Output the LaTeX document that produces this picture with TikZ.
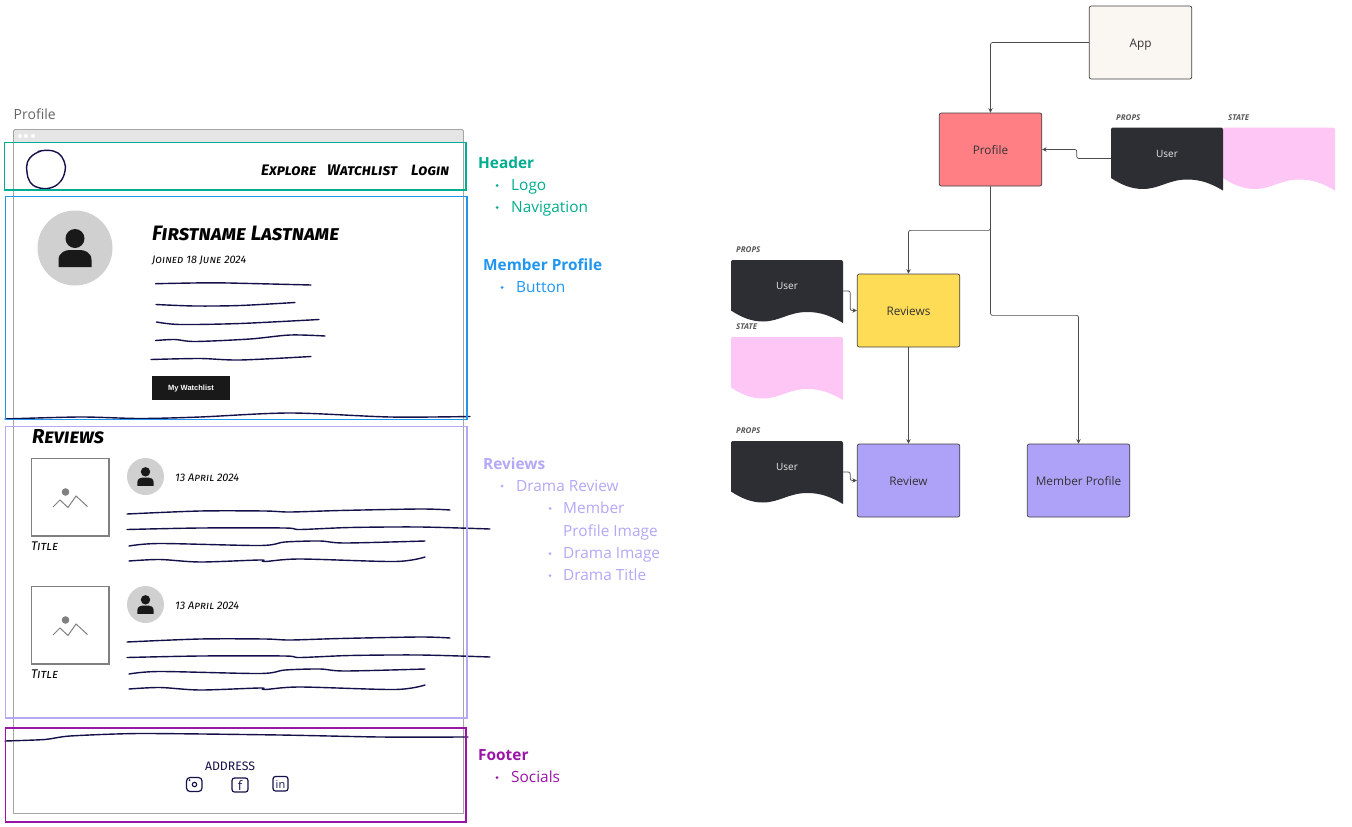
\documentclass[tikz,border=0pt]{standalone}
\usepackage{fontspec}
\usepackage{graphicx}
\setmainfont{Open Sans}
\newfontfamily\skf[Letters=SmallCaps]{Fira Sans}
\newfontfamily\arl{Liberation Sans}
\newfontfamily\addrf{Fira Sans}
\usetikzlibrary{arrows.meta}
\definecolor{ink}{HTML}{14104A}
\definecolor{teal1}{HTML}{00AD90}
\definecolor{blue1}{HTML}{2196F0}
\definecolor{purp1}{HTML}{B4A8F8}
\definecolor{mag1}{HTML}{9A14A8}
\definecolor{dark1}{HTML}{2D2E33}
\definecolor{pink1}{HTML}{FEC6F4}
\definecolor{fred}{HTML}{FF7F85}
\definecolor{fyel}{HTML}{FFDC55}
\definecolor{fpur}{HTML}{AEA1F8}
\definecolor{fcre}{HTML}{FAF6F1}
\definecolor{avat}{HTML}{D0D0D0}
\newcommand\skt[2]{\resizebox{#1pt}{!}{\skf\bfseries\itshape #2}}
\newcommand\sktl[2]{\resizebox{#1pt}{!}{\skf\itshape #2}}
\newcommand\fsz[1]{\fontsize{#1}{#1}\selectfont}
\tikzset{
 wob/.style={draw=ink,line width=1.4pt,line cap=round},
 sk/.style={inner sep=0pt,anchor=west,text=black},
 comp/.style={draw=black!75,line width=.7pt,rounded corners=2pt,minimum width=102.5pt,minimum height=73pt,inner sep=0pt,text height=12pt,text depth=2pt,font=\fsz{11.8}\color{black!80}},
 docbox/.style={inner sep=0pt,minimum width=112pt,minimum height=62pt},
 doctxt/.style={inner sep=0pt,text height=8pt,text depth=2pt,font=\fsz{10}\color{white!92!black}},
 tag/.style={inner sep=0pt,anchor=west,font=\fsz{8}\bfseries\itshape\color{black!65}},
 conn/.style={draw=black!70,line width=.7pt,rounded corners=2pt,-{Stealth[length=4.5pt,width=4.5pt]}},
 frameb/.style={draw=#1,line width=1.3pt,fill=none},
 lab/.style={inner sep=0pt,anchor=west,text=#1,text height=14pt,text depth=3pt,font=\fsz{15.4}},
 labb/.style={inner sep=0pt,anchor=west,text=#1,text height=14pt,text depth=3pt,font=\fsz{15.4}\bfseries},
 dotb/.style={fill=#1,draw=none,inner sep=0pt,minimum size=3pt,circle},
 avatar/.pic={
   \fill[avat] (0,0) circle (37.5pt);
   \fill[black!90] (0,-9.5) circle (9.5pt);
   \fill[black!90] (-16.5,19) -- (-16.5,12) .. controls (-16.5,4) and (-9,2) .. (-5,2) .. controls (-2,2) and (2,2) .. (5,2) .. controls (9,2) and (16.5,4) .. (16.5,12) -- (16.5,19) -- cycle;
 },
 smallav/.pic={
   \fill[avat] (0,0) circle (18.5pt);
   \fill[black!90] (0,-4.7) circle (4.7pt);
   \fill[black!90] (-8.2,9.4) -- (-8.2,6) .. controls (-8.2,2) and (-4.5,1) .. (-2.5,1) -- (2.5,1) .. controls (4.5,1) and (8.2,2) .. (8.2,6) -- (8.2,9.4) -- cycle;
 },
}
\newcommand\docshape[3]{\fill[#3,shift={(#1,#2)}] (0,2) arc[start angle=180,end angle=90,radius=2pt] -- (110,0) arc[start angle=90,end angle=0,radius=2pt] -- (112,63)
 .. controls (100,56) and (90,52) .. (76,52) .. controls (58,52) and (48,61.5) .. (32,61.5) .. controls (20,61.5) and (10,57) .. (0,50.5) -- cycle;}
\newcommand\reviewblock[1]{
 \begin{scope}[shift={(0,#1)}]
 \draw[draw=black!50,line width=1.5pt,fill=white] (31.5,458.5) rectangle (109,536);
 \fill[black!50] (65.5,492) circle (3.8pt);
 \draw[black!50,line width=1pt] (53,507) -- (60,500) -- (68,507.5) -- (76,496) -- (87.5,506.5);
 \pic at (145.5,476.5) {smallav};
 \draw[wob] plot[smooth,tension=.5] coordinates {(127,514)(200,511)(265,511)(290,512)(340,510.5)(420,509)(450,510)};
 \draw[wob] plot[smooth,tension=.5] coordinates {(127,529.5)(200,528)(285,528)(300,529.5)(350,527.5)(420,527)(490,529)};
 \draw[wob] plot[smooth,tension=.5] coordinates {(129,546)(160,543.5)(260,545.5)(285,542)(320,541)(345,543)(425,541)};
 \draw[wob] plot[smooth,tension=.5] coordinates {(129,561)(160,559.5)(200,562)(260,560)(265,561.5)(300,559)(395,561.5)(425,557)};
 \node[sk] (date#1) at (175,478) {\sktl{64}{13 April 2024}};
 \node[sk] (title#1) at (31,546.5) {\sktl{27}{Title}};
 \end{scope}
}
\begin{document}
\begin{tikzpicture}[x=1pt,y=-1pt]
\useasboundingbox[fill=white] (0,0) rectangle (1352,827);
% wireframe
\node[inner sep=0pt,anchor=west,font=\fsz{14},text=black!60] (ptitle) at (13.5,114) {Profile};
\fill[black!10,rounded corners=1.5pt] (13.5,129.5) rectangle (463.5,142.5);
\draw[black!35,line width=.8pt,rounded corners=1.5pt] (13.5,142) -- (13.5,129.5) -- (463.5,129.5) -- (463.5,142);
\draw[black!35,line width=.8pt] (13.5,142) -- (13.5,813) -- (463.5,813) -- (463.5,142);
\foreach \x in {20,26,33} \fill[white] (\x,136) circle (2pt);
% logo circle
\draw[wob] plot[smooth,tension=.7] coordinates {(38,151.5)(48,150.3)(58,153)(64,161)(65,171)(60,182)(50,188)(38,187.5)(30,182)(27,172)(27.5,162)(33,155)(41,151)};
\node[sk] (nav1) at (261,170) {\skt{55}{Explore}};
\node[sk] (nav2) at (327,170) {\skt{70}{Watchlist}};
\node[sk] (nav3) at (411,170) {\skt{38}{Login}};
% member
\pic at (75,248) {avatar};
\node[sk] (name) at (152,233.5) {\skt{187}{Firstname Lastname}};
\node[sk] (joined) at (152,260.5) {\sktl{94}{Joined 18 June 2024}};
\draw[wob] plot[smooth,tension=.5] coordinates {(155.5,283.7)(210,282.8)(250,283.5)(311,285)};
\draw[wob] plot[smooth,tension=.5] coordinates {(156,304.5)(195,306)(240,305.5)(295,302.5)};
\draw[wob] plot[smooth,tension=.5] coordinates {(156.5,322)(180,324.5)(240,323.5)(319,319.5)};
\draw[wob] plot[smooth,tension=.5] coordinates {(155.5,340.5)(175,339.5)(195,341.5)(250,339)(290,335)(325,336)};
\draw[wob] plot[smooth,tension=.5] coordinates {(151,359.5)(200,358.5)(240,360)(311,356.5)};
\node[fill=black!90,text=white,inner sep=0pt,minimum width=78pt,minimum height=24pt,text height=6pt,text depth=1pt,font=\arl\bfseries\fsz{7.5}] (btn) at (191,388) {My Watchlist};
\draw[wob] plot[smooth,tension=.5] coordinates {(5,419)(80,417)(140,418.5)(200,417)(290,413)(390,417)(470,416.5)};
% reviews
\node[sk] (revh) at (32,437) {\skt{72}{Reviews}};
\reviewblock{0}
\reviewblock{128}
% footer
\draw[wob] plot[smooth,tension=.4] coordinates {(5,741)(45,739.5)(70,736)(140,733.5)(280,735)(380,737)(468,737)};
\node[inner sep=0pt,text=ink] (addr) at (230,766) {\resizebox{50pt}{!}{\addrf\fsz{12}ADDRESS}};
\draw[ink,line width=1.2pt,rounded corners=3.5pt] (186.5,777.5) rectangle (202,791.5);
\draw[ink,line width=1.1pt] (194.5,784.5) circle (2.2pt);
\fill[ink] (189.5,780) circle (1pt);
\draw[ink,line width=1.2pt,rounded corners=2.5pt] (232,778) rectangle (248,792);
\node[inner sep=0pt,text=ink,font=\fsz{13}] (fb) at (240,785.5) {f};
\draw[ink,line width=1.2pt,rounded corners=2.5pt] (273,776.5) rectangle (288,791);
\node[inner sep=0pt,text=ink,font=\fsz{11}] (li) at (280.5,784) {in};
% frames
\draw[frameb=teal1] (4.5,142.5) rectangle (466,190);
\draw[frameb=blue1] (5.5,196.5) rectangle (467,419.5);
\draw[frameb=purp1] (5.5,426.5) rectangle (467,718);
\draw[frameb=mag1] (5.5,728) rectangle (466,822);
% side labels
\node[labb=teal1] (l1) at (478,163) {Header};
\node[dotb=teal1] (b1) at (497,185.5) {};
\node[lab=teal1] (l2) at (511,185) {Logo};
\node[dotb=teal1] (b2) at (497,207.5) {};
\node[lab=teal1] (l3) at (511,207) {Navigation};
\node[labb=blue1] (l4) at (483,264.5) {Member Profile};
\node[dotb=blue1] (b4) at (502,287.5) {};
\node[lab=blue1] (l5) at (516,287) {Button};
\node[labb=purp1] (l6) at (483,463.5) {Reviews};
\node[dotb=purp1] (b6) at (502,486) {};
\node[lab=purp1] (l7) at (516,486) {Drama Review};
\node[dotb=purp1] (b7) at (550,508.5) {};
\node[lab=purp1] (l8) at (563,508) {Member};
\node[lab=purp1] (l8b) at (563,530.5) {Profile Image};
\node[dotb=purp1] (b9) at (550,553.5) {};
\node[lab=purp1] (l9) at (563,553) {Drama Image};
\node[dotb=purp1] (b10) at (550,575.5) {};
\node[lab=purp1] (l10) at (563,575) {Drama Title};
\node[labb=mag1] (l11) at (478,755) {Footer};
\node[dotb=mag1] (b11) at (497,777.5) {};
\node[lab=mag1] (l12) at (511,777) {Socials};
% component tree
\node[comp,fill=fcre] (app) at (1140.5,42.5) {App};
\node[comp,fill=fred] (profile) at (990.5,149.5) {Profile};
\node[comp,fill=fyel] (reviews) at (908.5,310.5) {Reviews};
\node[comp,fill=fpur] (review) at (908.5,480.5) {Review};
\node[comp,fill=fpur] (member) at (1078.5,480.5) {Member Profile};
\docshape{1223}{127.5}{pink1}
\docshape{1111}{127.5}{dark1}
\docshape{731}{260}{dark1}
\docshape{731}{337}{pink1}
\docshape{731}{441}{dark1}
\node[docbox] (user1) at (1167,158.5) {};
\node[docbox] (user2) at (787,291) {};
\node[docbox] (user3) at (787,472) {};
\node[doctxt] (u1t) at (1167,154) {User};
\node[doctxt] (u2t) at (787,286) {User};
\node[doctxt] (u3t) at (787,467) {User};
\node[tag] (t1) at (1116,117.5) {PROPS};
\node[tag] (t2) at (1228,117.5) {STATE};
\node[tag] (t3) at (736,250) {PROPS};
\node[tag] (t4) at (736,327) {STATE};
\node[tag] (t5) at (736,431) {PROPS};
\draw[conn] (app.west) -| (profile.north);
\draw[conn] (user1.west) -- ++(-34,0) |- (profile.east);
\draw[conn] (profile.south) -- ++(0,44) -| (reviews.north);
\draw[conn] (profile.south) -- ++(0,129) -| (member.north);
\draw[conn] (reviews.south) -- (review.north);
\draw[conn] (user2.east) -- ++(7,0) |- (reviews.west);
\draw[conn] (user3.east) -- ++(7,0) |- (review.west);
\end{tikzpicture}
\end{document}
